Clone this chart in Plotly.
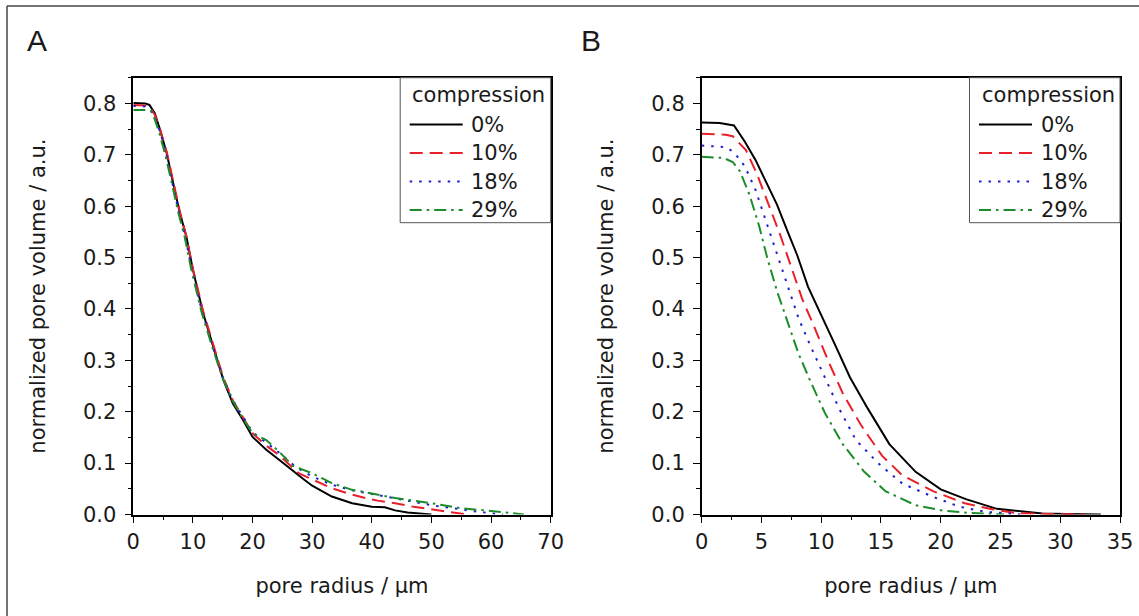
import plotly.graph_objects as go

# ---------------- data ----------------
series_names = ["0%", "10%", "18%", "29%"]
legend_title = "compression"

# Panel A
a0_x = [0, 1, 2, 2.7, 3.6, 4.5, 5.6, 6.7, 7.8, 8.9, 10.0, 11.7, 13.4, 15.1, 16.7, 18.4, 20.0, 22.3, 24.5, 26.7, 28.4, 30, 33.3, 36.7, 40, 42.2, 43.9, 46, 48, 50]
a0_y = [0.801, 0.801, 0.800, 0.797, 0.781, 0.748, 0.703, 0.644, 0.587, 0.541, 0.476, 0.392, 0.327, 0.262, 0.216, 0.184, 0.151, 0.126, 0.106, 0.085, 0.070, 0.056, 0.035, 0.022, 0.015, 0.014, 0.008, 0.004, 0.002, 0.0]
a1_x = [0, 1, 2, 2.8, 3.6, 4.5, 5.6, 6.7, 7.8, 8.9, 10, 11.7, 13.4, 15.1, 16.7, 18.4, 20, 22.3, 24.5, 27.8, 30, 33.3, 36, 38.9, 41, 43.9, 47, 50, 53, 56]
a1_y = [0.797, 0.797, 0.796, 0.792, 0.778, 0.749, 0.706, 0.648, 0.590, 0.541, 0.478, 0.396, 0.331, 0.266, 0.222, 0.190, 0.158, 0.134, 0.115, 0.080, 0.068, 0.051, 0.041, 0.032, 0.027, 0.022, 0.015, 0.010, 0.004, 0.0]
a2_x = [0, 1, 2, 3, 3.6, 4.5, 5.5, 6.5, 7.6, 8.7, 9.8, 11.5, 13.2, 15.0, 16.6, 18.3, 20, 22.3, 24.5, 27.3, 30, 33.3, 36.7, 40, 43.9, 47, 50, 55, 58, 62]
a2_y = [0.795, 0.795, 0.794, 0.785, 0.772, 0.745, 0.703, 0.648, 0.590, 0.541, 0.478, 0.396, 0.331, 0.268, 0.224, 0.192, 0.160, 0.140, 0.120, 0.092, 0.074, 0.058, 0.047, 0.040, 0.031, 0.024, 0.018, 0.010, 0.005, 0.0]
a3_x = [0, 1, 2, 3, 3.5, 4.3, 5.3, 6.4, 7.5, 8.6, 9.7, 11.4, 13.1, 14.9, 16.5, 18.2, 20, 22.3, 24.5, 26.7, 30, 33.3, 36.7, 40, 43.9, 47, 50, 55, 60, 65.5]
a3_y = [0.787, 0.787, 0.787, 0.785, 0.772, 0.745, 0.703, 0.648, 0.590, 0.541, 0.478, 0.396, 0.331, 0.268, 0.224, 0.190, 0.158, 0.145, 0.122, 0.095, 0.080, 0.061, 0.048, 0.041, 0.032, 0.027, 0.022, 0.012, 0.007, 0.0]

# Panel B
b0_x = [0, 1.5, 2.7, 3.6, 4.5, 5.4, 6.3, 7.2, 8.0, 8.9, 10.0, 11.2, 12.4, 13.9, 15.7, 17.9, 20.0, 22.1, 24.7, 27, 28.5, 30.5, 33.4]
b0_y = [0.763, 0.762, 0.757, 0.726, 0.690, 0.646, 0.603, 0.550, 0.504, 0.443, 0.389, 0.328, 0.267, 0.206, 0.137, 0.083, 0.049, 0.030, 0.011, 0.005, 0.002, 0.001, 0.0]
b1_x = [0, 2, 2.6, 3.7, 4.6, 5.7, 6.6, 7.5, 8.4, 9.4, 10.6, 11.8, 13.3, 15.1, 16.8, 19.4, 22, 24.1, 26.2, 29, 32]
b1_y = [0.741, 0.739, 0.736, 0.709, 0.664, 0.596, 0.542, 0.481, 0.420, 0.366, 0.298, 0.236, 0.175, 0.114, 0.076, 0.045, 0.022, 0.011, 0.003, 0.001, 0.0]
b2_x = [0, 2, 2.7, 3.6, 4.5, 5.4, 6.3, 7.2, 8.1, 9.1, 10.3, 11.5, 12.9, 14.8, 16.8, 19.4, 21.6, 23.8, 26.8]
b2_y = [0.718, 0.715, 0.705, 0.678, 0.632, 0.570, 0.506, 0.443, 0.382, 0.328, 0.267, 0.206, 0.145, 0.099, 0.060, 0.034, 0.015, 0.005, 0.0]
b3_x = [0, 1.8, 2.6, 3.2, 4.0, 4.8, 5.5, 6.3, 7.2, 8.1, 9.1, 10.3, 11.8, 13.6, 15.4, 17.9, 20.1, 22.4, 25.3]
b3_y = [0.696, 0.694, 0.686, 0.668, 0.622, 0.562, 0.498, 0.435, 0.374, 0.313, 0.259, 0.198, 0.137, 0.083, 0.045, 0.018, 0.008, 0.003, 0.0]

xa_ticks = [0, 10, 20, 30, 40, 50, 60, 70]
xb_ticks = [0, 5, 10, 15, 20, 25, 30, 35]
y_ticks = [0.0, 0.1, 0.2, 0.3, 0.4, 0.5, 0.6, 0.7, 0.8]

colors = ["#000000", "#e8202a", "#2020d0", "#1c8c2a"]
dashes = ["solid", "13px,7px", "2.5px,7px", "12px,5px,2.5px,5px"]

W, H = 1139, 616
FONT = "DejaVu Sans, sans-serif"
LFONT = "Liberation Sans, Arial, sans-serif"
FS = 21
TXT = "#1a1a1a"

def px_x(p):
    return p / W

def px_y(p):
    return 1 - p / H

fig = go.Figure()

panel_a = [(a0_x, a0_y), (a1_x, a1_y), (a2_x, a2_y), (a3_x, a3_y)]
panel_b = [(b0_x, b0_y), (b1_x, b1_y), (b2_x, b2_y), (b3_x, b3_y)]

for i, (xs, ys) in enumerate(panel_a):
    fig.add_trace(go.Scatter(x=xs, y=ys, mode="lines", name=series_names[i],
                             line=dict(color=colors[i], width=2, dash=dashes[i]),
                             xaxis="x", yaxis="y", showlegend=False))
for i, (xs, ys) in enumerate(panel_b):
    fig.add_trace(go.Scatter(x=xs, y=ys, mode="lines", name=series_names[i],
                             line=dict(color=colors[i], width=2, dash=dashes[i]),
                             xaxis="x2", yaxis="y2", showlegend=False))

ytop, ybot = 77.7, 514.5
ydom = [px_y(ybot), px_y(ytop)]
xa_px = (133.3, 550.7)
xb_px = (701.7, 1120.0)

def xaxis_cfg(dom, rng, ticks, minor_dtick, anchor):
    return dict(domain=dom, range=rng, tickvals=ticks, ticktext=[str(t) for t in ticks],
                showline=True, linecolor="black", linewidth=1.5, mirror=True, anchor=anchor,
                ticks="outside", ticklen=7, tickwidth=1.3, tickcolor="black",
                minor=dict(dtick=minor_dtick, tick0=0, ticks="outside", ticklen=4, tickwidth=1.3, tickcolor="black"),
                showgrid=False, zeroline=False, ticklabelstandoff=1,
                tickfont=dict(family=FONT, size=FS, color=TXT),
                title=dict(text="pore radius / µm", font=dict(family=FONT, size=FS, color=TXT), standoff=25),
                automargin=False)

def yaxis_cfg(anchor):
    return dict(domain=ydom, range=[0, 0.85], tickvals=y_ticks, ticktext=[f"{t:.1f}" for t in y_ticks],
                showline=True, linecolor="black", linewidth=1.5, mirror=True, anchor=anchor,
                ticks="outside", ticklen=7, tickwidth=1.3, tickcolor="black",
                minor=dict(dtick=0.05, tick0=0, ticks="outside", ticklen=4, tickwidth=1.3, tickcolor="black"),
                showgrid=False, zeroline=False, ticklabelstandoff=4,
                tickfont=dict(family=FONT, size=FS, color=TXT),
                title=dict(text="normalized pore volume / a.u.", font=dict(family=FONT, size=FS, color=TXT), standoff=32),
                automargin=False)

shapes = [
    dict(type="line", xref="paper", yref="paper", x0=px_x(7), x1=1, y0=px_y(6), y1=px_y(6),
         line=dict(color="#444444", width=1.5)),
    dict(type="line", xref="paper", yref="paper", x0=px_x(7), x1=px_x(7), y0=0, y1=px_y(6),
         line=dict(color="#444444", width=1.5)),
]
annotations = [
    dict(text="A", x=px_x(37.2), y=px_y(40), xref="paper", yref="paper", xanchor="center", yanchor="middle",
         showarrow=False, font=dict(family=LFONT, size=30, color=TXT)),
    dict(text="B", x=px_x(591), y=px_y(40), xref="paper", yref="paper", xanchor="center", yanchor="middle",
         showarrow=False, font=dict(family=LFONT, size=30, color=TXT)),
]

# Hand-drawn legend boxes (one per panel)
row_y = [124.5, 153, 181.5, 210]
for right in (xa_px[1], xb_px[1]):
    left = right - 150.5
    shapes.append(dict(type="rect", xref="paper", yref="paper", layer="above",
                       x0=px_x(left), x1=px_x(right), y0=px_y(222.7), y1=px_y(ytop),
                       fillcolor="white", line=dict(color="#555555", width=1)))
    annotations.append(dict(text=legend_title, x=px_x(left + 10), y=px_y(95), xref="paper", yref="paper",
                            xanchor="left", yanchor="middle", showarrow=False,
                            font=dict(family=FONT, size=FS, color=TXT)))
    for i, name in enumerate(series_names):
        shapes.append(dict(type="line", xref="paper", yref="paper", layer="above",
                           x0=px_x(left + 9.5), x1=px_x(left + 62.5), y0=px_y(row_y[i]), y1=px_y(row_y[i]),
                           line=dict(color=colors[i], width=2, dash=dashes[i])))
        annotations.append(dict(text=name, x=px_x(left + 69), y=px_y(row_y[i]), xref="paper", yref="paper",
                                xanchor="left", yanchor="middle", showarrow=False,
                                font=dict(family=FONT, size=FS, color=TXT)))

fig.update_layout(
    width=W, height=H,
    margin=dict(l=0, r=0, t=0, b=0),
    paper_bgcolor="white", plot_bgcolor="white",
    showlegend=False,
    xaxis=xaxis_cfg([px_x(xa_px[0]), px_x(xa_px[1])], [0, 70], xa_ticks, 5, "y"),
    yaxis=yaxis_cfg("x"),
    xaxis2=xaxis_cfg([px_x(xb_px[0]), px_x(xb_px[1])], [0, 35], xb_ticks, 2.5, "y2"),
    yaxis2=yaxis_cfg("x2"),
    annotations=annotations,
    shapes=shapes,
)

fig.write_html("out.html", config={"displayModeBar": False},
               post_script="document.body.style.margin='0';document.body.style.overflow='hidden';")
